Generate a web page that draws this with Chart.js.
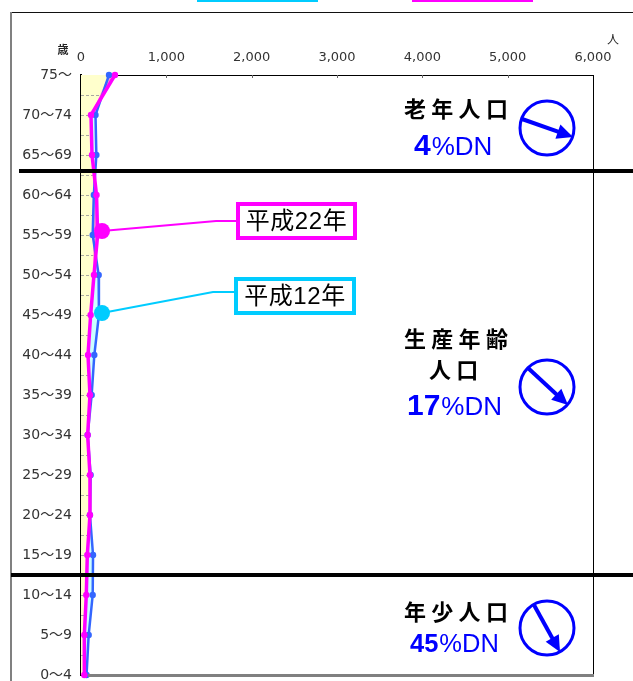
<!DOCTYPE html>
<html lang="ja">
<head>
    <meta charset="UTF-8">
    <title>年齢別人口</title>
    <script src="https://cdn.jsdelivr.net/npm/chart.js"></script>
    <style>
        html, body { margin: 0; padding: 0; background: #fff; overflow: hidden; height: 100%; }
        canvas { display: block; }
    </style>
</head>
<body>
    <canvas id="myChart" width="633" height="700"></canvas>

    <script>
        const categories = ['75～', '70～74', '65～69', '60～64', '55～59', '50～54', '45～49', '40～44',
            '35～39', '30～34', '25～29', '20～24', '15～19', '10～14', '5～9', '0～4'];
        const xTicks = [0, 1000, 2000, 3000, 4000, 5000, 6000];

        // 人口 (人)
        const heisei12 = [328, 170, 180, 150, 137, 207, 210, 156, 125, 78, 113, 105, 141, 137, 90, 65];
        const heisei22 = [398, 117, 129, 182, 195, 152, 113, 82, 105, 78, 105, 105, 74, 62, 39, 39];

        // 吹き出しの引き出し線
        const leader22X = [246, 1583, 1817];
        const leader22Y = [3.9, 3.65, 3.65];
        const leader12X = [246, 1547, 1794];
        const leader12Y = [5.95, 5.425, 5.425];

        const FONT_JP = '"Noto Sans CJK JP", sans-serif';
        const FONT_LATIN = '"Liberation Sans", "Noto Sans CJK JP", sans-serif';
        const BLUE = '#0000ff';

        const lowest = heisei12.map((v, i) => Math.min(v, heisei22[i]));
        const toPoints = (xs, ys) => xs.map((x, i) => ({ x: x, y: ys ? ys[i] : i }));

        function drawArrow(ctx, c, from, to) {
            ctx.strokeStyle = BLUE;
            ctx.fillStyle = BLUE;
            ctx.lineWidth = 3;
            ctx.beginPath();
            ctx.arc(c[0], c[1], 27, 0, Math.PI * 2);
            ctx.stroke();

            const a = Math.atan2(to[1] - from[1], to[0] - from[0]);
            ctx.lineWidth = 4;
            ctx.beginPath();
            ctx.moveTo(from[0], from[1]);
            ctx.lineTo(to[0] - 10 * Math.cos(a), to[1] - 10 * Math.sin(a));
            ctx.stroke();
            ctx.beginPath();
            ctx.moveTo(to[0], to[1]);
            ctx.lineTo(to[0] - 16 * Math.cos(a) + 7.5 * Math.sin(a), to[1] - 16 * Math.sin(a) - 7.5 * Math.cos(a));
            ctx.lineTo(to[0] - 16 * Math.cos(a) - 7.5 * Math.sin(a), to[1] - 16 * Math.sin(a) + 7.5 * Math.cos(a));
            ctx.closePath();
            ctx.fill();
        }

        // 文字間をあけた太字の見出し
        function drawHeading(ctx, text, x, y) {
            ctx.font = 'bold 22px ' + FONT_JP;
            ctx.fillStyle = '#000';
            ctx.textAlign = 'center';
            ctx.textBaseline = 'middle';
            [...text].forEach((ch, i) => ctx.fillText(ch, x + i * 27.3, y));
        }

        function drawRate(ctx, num, x, y, numSize, restSize) {
            ctx.fillStyle = BLUE;
            ctx.textAlign = 'left';
            ctx.textBaseline = 'alphabetic';
            ctx.font = 'bold ' + numSize + 'px ' + FONT_LATIN;
            ctx.fillText(num, x, y);
            const w = ctx.measureText(num).width;
            ctx.font = restSize + 'px ' + FONT_LATIN;
            ctx.fillText('%DN', x + w + 1, y);
        }

        function drawLabelBox(ctx, text, color, x, y, w, h) {
            ctx.fillStyle = '#fff';
            ctx.fillRect(x, y, w, h);
            ctx.strokeStyle = color;
            ctx.lineWidth = 4;
            ctx.strokeRect(x + 2, y + 2, w - 4, h - 4);
            ctx.fillStyle = '#000';
            ctx.font = '24px ' + FONT_LATIN;
            ctx.letterSpacing = '0.6px';
            ctx.textAlign = 'center';
            ctx.textBaseline = 'middle';
            ctx.fillText(text, x + w / 2, y + h / 2 + 1);
            ctx.letterSpacing = '0px';
        }

        const decorations = {
            id: 'decorations',
            // 黄色の範囲にだけ目盛線を引く
            afterDatasetDraw(chart, args) {
                if (args.index !== 2) return;
                const { ctx, scales } = chart;
                const pts = args.meta.data;
                ctx.save();
                ctx.beginPath();
                ctx.moveTo(scales.x.left, pts[0].y);
                pts.forEach(p => ctx.lineTo(p.x, p.y));
                ctx.lineTo(scales.x.left, pts[pts.length - 1].y);
                ctx.closePath();
                ctx.clip();
                ctx.strokeStyle = '#a8a8a0';
                ctx.lineWidth = 1;
                ctx.setLineDash([3, 2]);
                for (let i = 0.5; i < categories.length - 1; i += 0.5) {
                    const y = Math.round(scales.y.getPixelForValue(i)) + 0.5;
                    ctx.beginPath();
                    ctx.moveTo(scales.x.left, y);
                    ctx.lineTo(scales.x.left + 60, y);
                    ctx.stroke();
                }
                ctx.restore();
            },
            afterDraw(chart) {
                const { ctx, scales, chartArea: area } = chart;
                ctx.save();

                // 枠
                ctx.strokeStyle = '#000';
                ctx.lineWidth = 1;
                ctx.beginPath();
                ctx.moveTo(area.right + 0.5, area.top);
                ctx.lineTo(area.right + 0.5, area.bottom);
                ctx.stroke();
                ctx.fillStyle = '#808080';
                ctx.fillRect(area.left + 7, area.bottom - 1, area.right - area.left - 6, 3);

                ctx.fillStyle = '#111';
                ctx.fillRect(10, 12, 623, 1);
                ctx.fillStyle = '#808080';
                ctx.fillRect(10, 12, 2, 669);

                // 上軸の内向き目盛
                ctx.strokeStyle = '#666';
                xTicks.slice(1, -1).forEach(v => {
                    const x = Math.round(scales.x.getPixelForValue(v)) + 0.5;
                    ctx.beginPath();
                    ctx.moveTo(x, area.top);
                    ctx.lineTo(x, area.top + 3);
                    ctx.stroke();
                });

                // 凡例の帯
                ctx.fillStyle = '#00ccff';
                ctx.fillRect(197, 0, 121, 2);
                ctx.fillStyle = '#ff00ff';
                ctx.fillRect(412, 0, 121, 2);

                // 単位
                ctx.fillStyle = '#222';
                ctx.textAlign = 'center';
                ctx.textBaseline = 'middle';
                ctx.font = 'bold 11px ' + FONT_JP;
                ctx.fillText('歳', 63, 50);
                ctx.font = '12px ' + FONT_JP;
                ctx.fillText('人', 613, 39);

                // 年齢区分の仕切り
                ctx.fillStyle = '#000';
                ctx.fillRect(19, 169, 614, 4);
                ctx.fillRect(11, 573, 622, 4);

                drawLabelBox(ctx, '平成22年', '#ff00ff', 236, 202, 121, 38);
                drawLabelBox(ctx, '平成12年', '#00ccff', 234, 277, 122, 38);

                drawHeading(ctx, '老年人口', 415, 109);
                drawRate(ctx, '4', 414, 155, 30, 26);
                drawArrow(ctx, [547, 128], [522, 119], [573, 137]);

                drawHeading(ctx, '生産年齢', 415, 339);
                drawHeading(ctx, '人口', 440, 370);
                drawRate(ctx, '17', 407, 415, 30, 26);
                drawArrow(ctx, [547, 387], [528, 368], [568, 405]);

                drawHeading(ctx, '年少人口', 415, 612);
                drawRate(ctx, '45', 410, 652, 25.5, 25.5);
                drawArrow(ctx, [547, 628], [534, 605], [560, 652]);

                ctx.restore();
            }
        };

        const fillLayer = (values, color, order) => ({
            data: toPoints(values),
            borderWidth: 0,
            pointRadius: 0,
            backgroundColor: color,
            fill: 'start',
            order: order
        });

        const ctx = document.getElementById('myChart').getContext('2d');
        const myChart = new Chart(ctx, {
            type: 'line',
            data: {
                datasets: [
                    fillLayer(heisei12, '#ccffff', 8),
                    fillLayer(heisei22, '#ff99cc', 7),
                    fillLayer(lowest, '#ffffcc', 6),
                    {
                        label: '平成12年',
                        data: toPoints(heisei12),
                        borderColor: '#3366ff',
                        backgroundColor: '#3366ff',
                        borderWidth: 2.5,
                        pointRadius: 3.2,
                        pointBorderWidth: 0,
                        clip: false,
                        order: 5
                    },
                    {
                        label: '平成22年',
                        data: toPoints(heisei22),
                        borderColor: '#ff00ff',
                        backgroundColor: '#ff00ff',
                        borderWidth: 3.5,
                        pointRadius: 3.2,
                        pointBorderWidth: 0,
                        clip: false,
                        order: 4
                    },
                    {
                        data: toPoints(leader12X, leader12Y),
                        borderColor: '#00ccff',
                        backgroundColor: '#00ccff',
                        borderWidth: 2,
                        pointRadius: [8, 0, 0],
                        pointBorderWidth: 0,
                        order: 2
                    },
                    {
                        data: toPoints(leader22X, leader22Y),
                        borderColor: '#ff00ff',
                        backgroundColor: '#ff00ff',
                        borderWidth: 2,
                        pointRadius: [8, 0, 0],
                        pointBorderWidth: 0,
                        order: 1
                    }
                ]
            },
            options: {
                indexAxis: 'y',
                responsive: false,
                animation: false,
                elements: { line: { tension: 0 } },
                layout: { padding: { left: 0, top: 0, right: 40, bottom: 25 } },
                plugins: { legend: { display: false }, tooltip: { enabled: false } },
                scales: {
                    x: {
                        type: 'linear',
                        position: 'top',
                        min: 0,
                        max: 6000,
                        afterBuildTicks: s => { s.ticks = xTicks.map(v => ({ value: v })); },
                        afterFit: s => { s.height = 75; s.paddingLeft = 0; s.paddingRight = 0; },
                        grid: { drawOnChartArea: false, drawTicks: false },
                        border: { color: '#000', width: 1 },
                        ticks: {
                            padding: 10,
                            color: '#333',
                            maxRotation: 0,
                            autoSkip: false,
                            font: { family: 'DejaVu Sans', size: 13 },
                            callback: v => v.toLocaleString('en-US')
                        }
                    },
                    y: {
                        type: 'linear',
                        reverse: true,
                        min: 0,
                        max: categories.length - 1,
                        afterFit: s => { s.width = 81; s.paddingTop = 0; s.paddingBottom = 0; },
                        grid: { drawOnChartArea: false, drawTicks: false },
                        border: { color: '#000', width: 2 },
                        ticks: {
                            stepSize: 1,
                            padding: 9,
                            color: '#333',
                            autoSkip: false,
                            font: { family: '"DejaVu Sans", "Noto Sans CJK JP"', size: 14 },
                            callback: v => categories[v]
                        }
                    }
                }
            },
            plugins: [decorations]
        });
    </script>
</body>
</html>
